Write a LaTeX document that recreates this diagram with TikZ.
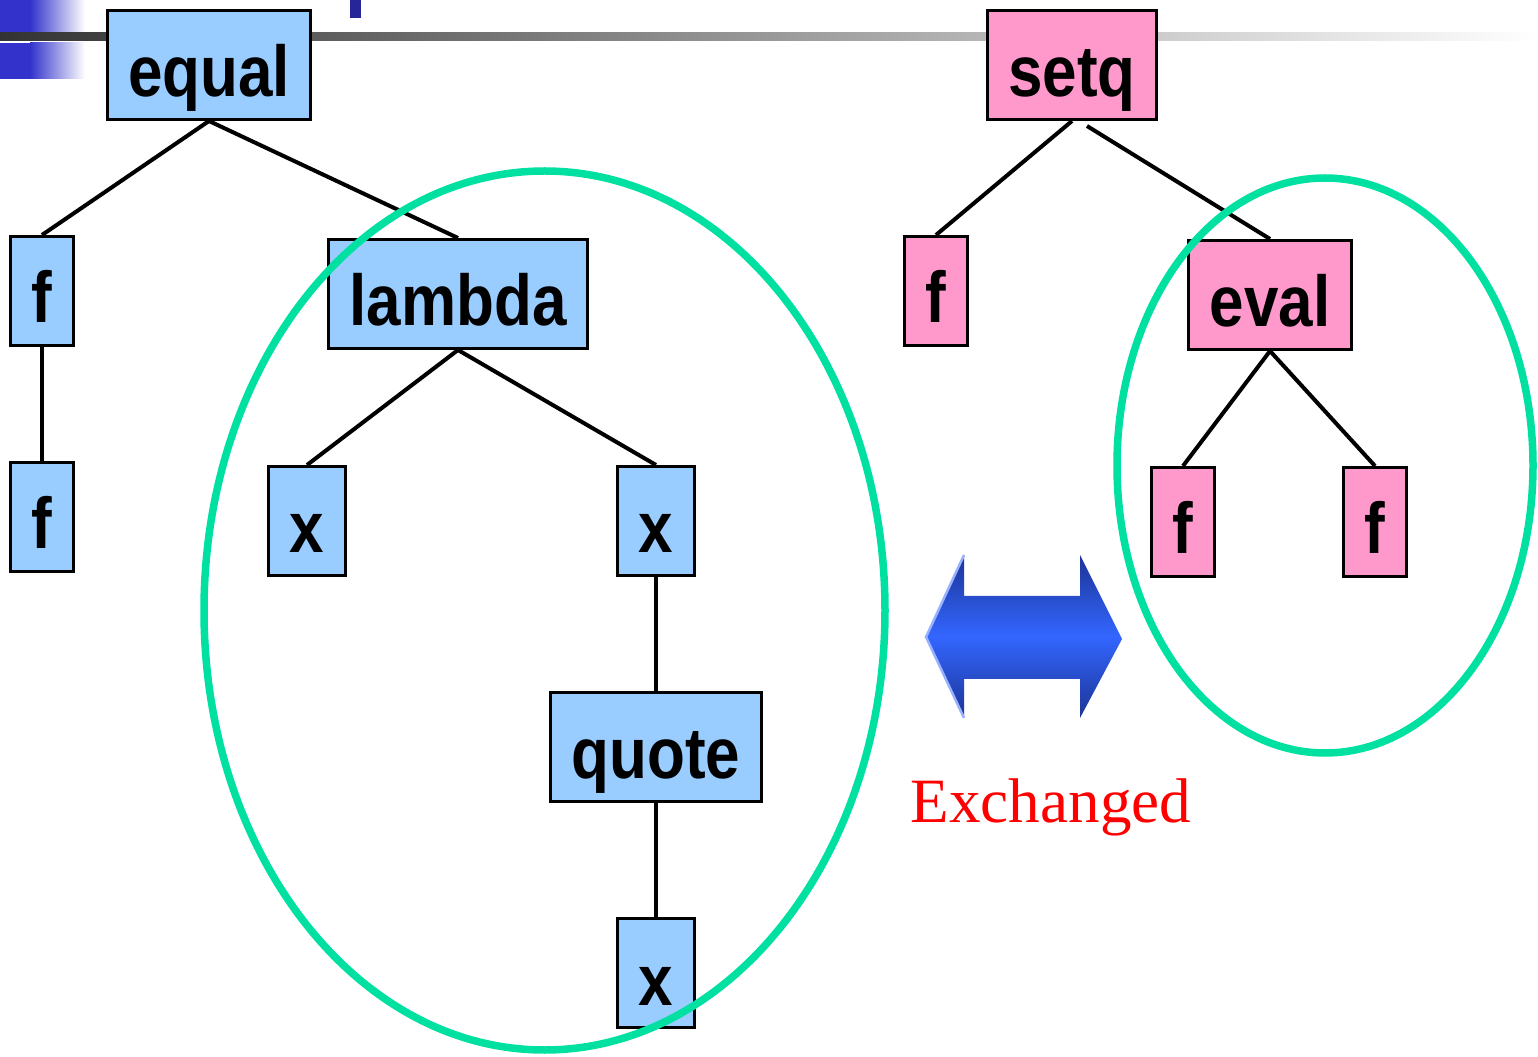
\documentclass[tikz,border=0pt]{standalone}
\usepackage{fontspec}
\setmainfont{Liberation Serif}
\newfontfamily\treefont[FakeStretch=0.86]{Liberation Sans}
\usetikzlibrary{positioning, calc}
\definecolor{lispblue}{RGB}{153,204,255}
\definecolor{lisppink}{RGB}{255,153,204}
\definecolor{ringgreen}{RGB}{0,224,160}
\definecolor{slideblue}{RGB}{51,51,204}
\definecolor{arrowdark}{RGB}{28,52,150}
\definecolor{arrowlight}{RGB}{51,102,255}

\begin{document}
\begin{tikzpicture}[cell/.style={rectangle, 
      draw, 
      line width=0.06cm, 
      fill=#1, 
      font=\treefont\bfseries\fontsize{41}{49}\selectfont, 
      inner xsep=0.42cm, 
      inner ysep=0.1cm, 
      minimum height=2.18cm, 
      text height=1.4cm, 
      text depth=0.12cm},
    branch/.style={line width=0.08cm},
    ring/.style={draw=ringgreen, line width=0.15cm}]
  \useasboundingbox (0,0) rectangle (30.76,-21.14);

% SLIDE DECORATION

  \fill[slideblue] (0,0) rectangle (0.6,-0.66);
  \shade[left color=slideblue, right color=white] (0.6,0) rectangle (1.7,-0.66);
  \fill[slideblue] (0,-0.86) rectangle (0.6,-1.58);
  \shade[left color=slideblue, right color=white] (0.6,-0.86) rectangle (1.7,-1.58);
  \shade[left color=black!80, right color=white] (0,-0.66) rectangle (30.76,-0.82);
  \fill[slideblue!75!black] (7.0,0) rectangle (7.22,-0.37);

% LEFT TREE

  \node [cell=lispblue] (equal) at (4.18,-1.30) {equal};
  \node [cell=lispblue] (f1) at (0.84,-5.82) {f};
  \node [cell=lispblue, below=2.28cm of f1] (f2) {f};
  \node [cell=lispblue] (lambda) at (9.16,-5.88) {lambda};
  \node [cell=lispblue] (x1) at (6.14,-10.42) {x};
  \node [cell=lispblue] (x2) at (13.12,-10.42) {x};
  \node [cell=lispblue, below=2.28cm of x2] (quote) {quote};
  \node [cell=lispblue, below=2.28cm of quote] (x3) {x};

  \draw[branch] (equal.south) -- (f1.north);
  \draw[branch] (equal.south) -- (lambda.north);
  \draw[branch] (f1.south) -- (f2.north);
  \draw[branch] (lambda.south) -- (x1.north);
  \draw[branch] (lambda.south) -- (x2.north);
  \draw[branch] (x2.south) -- (quote.north);
  \draw[branch] (quote.south) -- (x3.north);

% RIGHT TREE

  \node [cell=lisppink] (setq) at (21.44,-1.30) {setq};
  \node [cell=lisppink] (f3) at (18.72,-5.82) {f};
  \node [cell=lisppink] (eval) at (25.40,-5.90) {eval};
  \node [cell=lisppink] (f4) at (23.66,-10.44) {f};
  \node [cell=lisppink] (f5) at (27.50,-10.44) {f};

  \draw[branch] (setq.south) -- (f3.north);
  \draw[branch] ([xshift=0.3cm, yshift=-0.1cm]setq.south) -- (eval.north);
  \draw[branch] (eval.south) -- (f4.north);
  \draw[branch] (eval.south) -- (f5.north);

% SUBTREES THAT SWAP

  \draw[ring] (10.89,-12.21) ellipse (6.81 and 8.79);
  \draw[ring] (26.50,-9.31) ellipse (4.16 and 5.75);

  \shade[top color=arrowdark, bottom color=arrowdark, middle color=arrowlight] 
    (18.52,-12.74) -- (19.28,-11.10) -- (19.28,-11.92) -- (21.60,-11.92) 
    -- (21.60,-11.10) -- (22.44,-12.78) -- (21.60,-14.36) -- (21.60,-13.58) 
    -- (19.28,-13.58) -- (19.28,-14.36) -- cycle;
  \draw[arrowlight!50!white, line width=0.05cm] 
    (19.28,-14.36) -- (18.52,-12.74) -- (19.28,-11.10);

  \node [anchor=base, text=red, font=\fontsize{35.9}{43}\selectfont] 
    (swap) at (21.02,-16.44) {Exchanged};

\end{tikzpicture}
\end{document}
